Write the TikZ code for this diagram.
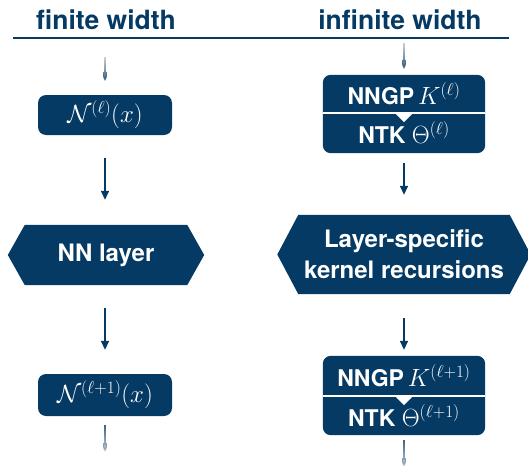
\documentclass[tikz,border=0pt]{standalone}
\usepackage{fontspec}
\setsansfont{TeX Gyre Heros}
\usetikzlibrary{backgrounds,fadings,arrows.meta}
\definecolor{dkblue}{HTML}{053A64}
\definecolor{fadeblue}{HTML}{3E5F7A}
\tikzfading[name=fadeup, top color=transparent!75, bottom color=transparent!0]
\tikzfading[name=fadedown, top color=transparent!0, bottom color=transparent!75]
\begin{document}
\begin{tikzpicture}[x=1pt,y=-1pt,
  hdr/.style={font=\sffamily\bfseries\fontsize{26.5}{30}\selectfont, text=dkblue, inner sep=0pt, anchor=base},
  lblfont/.style={font=\sffamily\bfseries\fontsize{23}{27}\selectfont, text=white},
  box/.style={lblfont, rectangle, rounded corners=8pt, fill=dkblue, minimum width=134pt, minimum height=40pt, inner sep=0pt},
  half/.style={lblfont, rectangle, minimum width=162pt, inner sep=0pt},
  hexlbl/.style={font=\sffamily\bfseries\fontsize{24}{31}\selectfont, text=white, align=center, inner sep=0pt},
  arr/.style={-{Triangle[length=9pt,width=8pt]}, line width=1.4pt, draw=dkblue, fill=dkblue},
  farrin/.style={-{Triangle[length=9pt,width=8pt]}, line width=1.4pt, draw=fadeblue, fill=fadeblue, path fading=fadeup},
  farrout/.style={-{Triangle[length=9pt,width=8pt]}, line width=1.4pt, draw=fadeblue, fill=fadeblue, path fading=fadedown}
]
\useasboundingbox (0,0) rectangle (528,466);

% headers
\node[hdr] (hl) at (106,29) {finite width};
\node[hdr] (hr) at (400,29) {infinite width};
\coordinate (lineL) at (13,38);
\coordinate (lineR) at (509,38);
\draw[dkblue, line width=2pt] (lineL) -- (lineR);

% left column
\node[box] (box1) at (105,115) {$\mathcal{N}^{(\ell)}(x)$};
\node[hexlbl, minimum width=196pt, minimum height=60pt] (hex1) at (106,255) {NN layer};
\node[box, minimum height=42pt] (box2) at (105,395) {$\mathcal{N}^{(\ell+1)}(x)$};
\coordinate (t1) at (105,57);
\coordinate (t1e) at (105,81);
\coordinate (b1s) at (105,425);
\coordinate (b1) at (105,452);

% right column
\node[half, minimum height=38pt] (nngp1) at (404,94) {NNGP\,$K^{(\ell)}$};
\node[half, minimum height=40pt] (ntk1) at (404,133) {NTK $\Theta^{(\ell)}$};
\node[hexlbl, minimum width=253pt, minimum height=79pt] (hex2) at (404,254.5) {Layer-specific\\kernel recursions};
\node[half, minimum height=40pt] (nngp2) at (404,376) {NNGP\,$K^{(\ell+1)}$};
\node[half, minimum height=39pt] (ntk2) at (404,415.5) {NTK $\Theta^{(\ell+1)}$};
\coordinate (t2) at (404,43);
\coordinate (t2e) at (404,69);
\coordinate (b2s) at (404,440);
\coordinate (b2) at (404,467);

\begin{scope}[on background layer]
  \fill[dkblue] (hex1.west) -- ([xshift=17pt]hex1.north west) -- ([xshift=-17pt]hex1.north east)
     -- (hex1.east) -- ([xshift=-17pt]hex1.south east) -- ([xshift=17pt]hex1.south west) -- cycle;
  \fill[dkblue] (hex2.west) -- ([xshift=21pt]hex2.north west) -- ([xshift=-21pt]hex2.north east)
     -- (hex2.east) -- ([xshift=-21pt]hex2.south east) -- ([xshift=21pt]hex2.south west) -- cycle;
  \fill[dkblue, rounded corners=8pt] (nngp1.north west) rectangle (ntk1.south east);
  \fill[dkblue, rounded corners=8pt] (nngp2.north west) rectangle (ntk2.south east);
\end{scope}

% dividers
\draw[white, line width=1.5pt] (nngp1.south west) -- (nngp1.south east);
\fill[white] ([xshift=-9pt]nngp1.south) -- ([xshift=9pt]nngp1.south) -- ([yshift=-9pt]nngp1.south) -- cycle;
\draw[white, line width=1.5pt] (nngp2.south west) -- (nngp2.south east);
\fill[white] ([xshift=-9pt]nngp2.south) -- ([xshift=9pt]nngp2.south) -- ([yshift=-9pt]nngp2.south) -- cycle;

% arrows left
\draw[farrin] (t1) -- (t1e);
\draw[arr, shorten <=23pt, shorten >=25pt] (box1.south) -- (box1.south |- hex1.north);
\draw[arr, shorten <=23pt, shorten >=24pt] (box2.north |- hex1.south) -- (box2.north);
\draw[farrout] (b1s) -- (b1);

% arrows right
\draw[farrin] (t2) -- (t2e);
\draw[arr, shorten <=10pt, shorten >=20pt] (ntk1.south) -- (hex2.north);
\draw[arr, shorten <=24pt, shorten >=6pt] (hex2.south) -- (nngp2.north);
\draw[farrout] (b2s) -- (b2);
\end{tikzpicture}
\end{document}
